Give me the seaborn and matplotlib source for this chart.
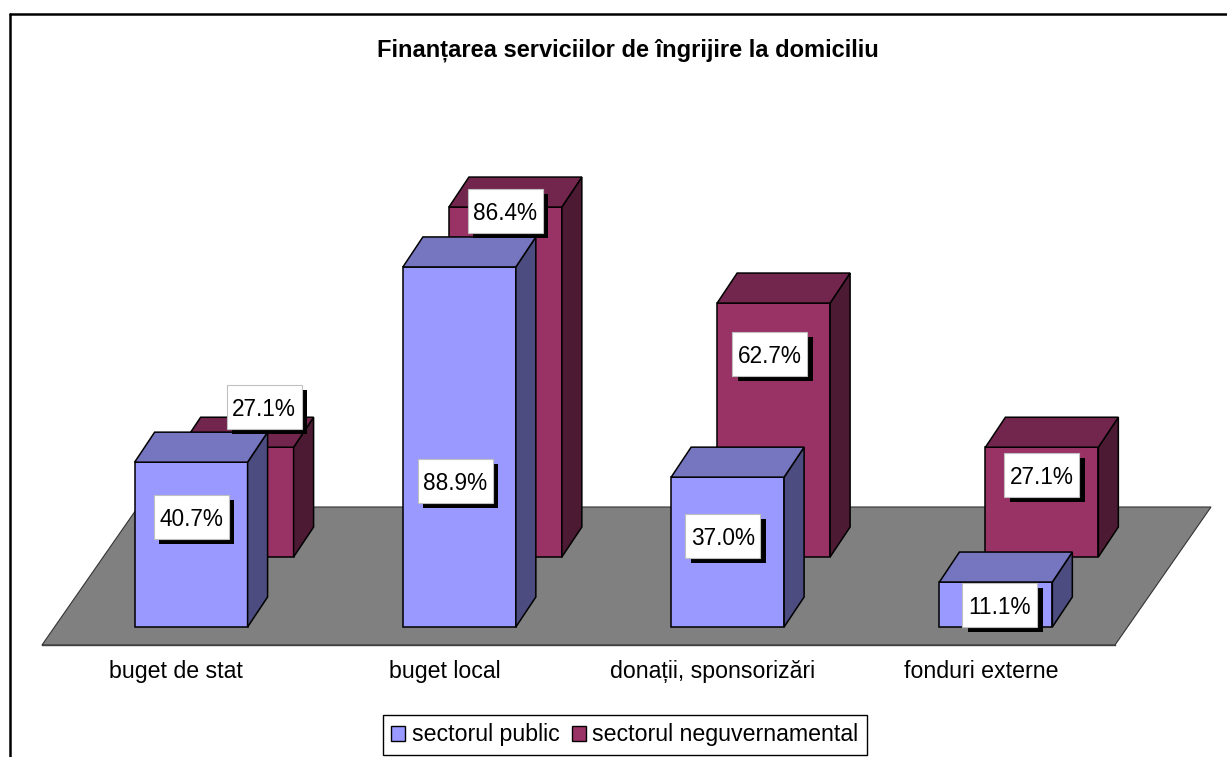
import matplotlib
matplotlib.use("Agg")
import matplotlib.pyplot as plt
from matplotlib.patches import Polygon, Rectangle
from matplotlib.lines import Line2D
from matplotlib.transforms import Affine2D, ScaledTranslation
import pandas as pd
import seaborn as sns

# date
categories = ["buget de stat", "buget local", "donații, sponsorizări", "fonduri externe"]
series = ["sectorul public", "sectorul neguvernamental"]
public = [40.7, 88.9, 37.0, 11.1]
ngo = [27.1, 86.4, 62.7, 27.1]

df = pd.DataFrame({
    "categorie": categories * 2,
    "sector": [series[0]] * 4 + [series[1]] * 4,
    "valoare": public + ngo,
})

front = {series[0]: "#9999FF", series[1]: "#993366"}
top = {series[0]: "#7676C0", series[1]: "#73264D"}
side = {series[0]: "#4C4C80", series[1]: "#4D1A33"}

# pozitia etichetelor (fractie din inaltimea barei) si deplasare orizontala in px
lab_frac = {series[0]: [0.667, 0.405, 0.61, 0.5], series[1]: [1.37, 0.99, 0.80, 0.75]}
lab_dx = {series[0]: [0, -4, -5, 4], series[1]: [27, 0, -4, 0]}

W, H = 1227, 757
sns.set_style("white")
plt.rcParams["font.family"] = ["Liberation Sans", "DejaVu Sans"]
plt.rcParams["text.color"] = "black"

fig = plt.figure(figsize=(W / 100, H / 100), dpi=100)
ax = fig.add_axes([42 / W, 1 - 645 / H, 1073 / W, 545 / H])

ppx = 1073 / 4          # px per categorie
ppy = 4.05              # px per procent
def ux(px):
    return px / ppx
def uy(px):
    return px / ppy

sns.barplot(data=df, x="categorie", y="valoare", hue="sector", hue_order=series,
            order=categories, palette=front, dodge=False, width=0.421, saturation=1,
            errorbar=None, edgecolor="black", linewidth=1.1, ax=ax)

ax.set_xlim(-0.5, 3.5)
ax.set_ylim(-uy(18), -uy(18) + uy(545))

# podeaua
y_floor = -uy(18)
floor = Polygon([(-0.5, y_floor), (3.5, y_floor), (3.5 + ux(96), y_floor + uy(138)),
                 (-0.5 + ux(96), y_floor + uy(138))], closed=True,
                facecolor="#808080", edgecolor="#333333", lw=0.8, zorder=1, clip_on=False)
ax.add_patch(floor)

# deplasari pentru efectul 3D
shift = {series[0]: (ux(15), 0.0), series[1]: (ux(61), uy(70))}
zo = {series[0]: 5, series[1]: 3}
ddx, ddy = ux(20), uy(30)

for s, cont in zip(series, ax.containers):
    vals = public if s == series[0] else ngo
    for i, p in enumerate(cont):
        p.set_x(p.get_x() + shift[s][0])
        p.set_y(shift[s][1])
        p.set_zorder(zo[s])
        p.set_clip_on(False)
        x, y, w, h = p.get_x(), p.get_y(), p.get_width(), p.get_height()
        topf = Polygon([(x, y + h), (x + w, y + h), (x + w + ddx, y + h + ddy), (x + ddx, y + h + ddy)],
                       closed=True, facecolor=top[s], edgecolor="black", lw=1.1,
                       zorder=zo[s], clip_on=False)
        sidef = Polygon([(x + w, y), (x + w + ddx, y + ddy), (x + w + ddx, y + h + ddy), (x + w, y + h)],
                        closed=True, facecolor=side[s], edgecolor="black", lw=1.1,
                        zorder=zo[s], clip_on=False)
        ax.add_patch(sidef)
        ax.add_patch(topf)
        # eticheta: cutie alba cu umbra neagra
        lx = x + w / 2 + ux(lab_dx[s][i])
        ly = y + lab_frac[s][i] * h
        tr = Affine2D() + ScaledTranslation(lx, ly, ax.transData)
        ax.add_patch(Rectangle((-32, -27), 75, 44, transform=tr, facecolor="black",
                               edgecolor="none", zorder=9, clip_on=False))
        ax.add_patch(Rectangle((-37.5, -22), 75, 44, transform=tr, facecolor="white",
                               edgecolor="#C0C0C0", lw=0.8, zorder=9.5, clip_on=False))
        ax.text(lx, ly, f"{vals[i]:.1f}%", ha="center", va="center_baseline",
                fontsize=16.3, color="black", zorder=10, clip_on=False)

# axe
ax.set_xticks(range(4))
ax.set_xticklabels(categories, fontsize=16.7)
ax.set_xticks([-0.5, 0.5, 1.5, 2.5, 3.5], minor=True)
ax.tick_params(axis="x", which="major", length=0, pad=11, labelcolor="black")
ax.tick_params(axis="x", which="minor", length=7, color="#808080", width=1)
ax.set_yticks([])
ax.set_xlabel("")
ax.set_ylabel("")
for sp in ["left", "top", "right"]:
    ax.spines[sp].set_visible(False)
ax.spines["bottom"].set_color("#404040")
ax.spines["bottom"].set_linewidth(1)
ax.patch.set_alpha(0)

# legenda
sns.move_legend(ax, "center", bbox_to_anchor=(625 / W, 1 - 735 / H),
                bbox_transform=fig.transFigure, ncol=2, title=None, frameon=True,
                fontsize=16.7, handlelength=0.6, handleheight=0.6, handletextpad=0.3,
                columnspacing=0.5, borderpad=0.35, fancybox=False, edgecolor="black",
                framealpha=1)
leg = ax.get_legend()
for hnd in leg.legend_handles:
    hnd.set_edgecolor("black")
    hnd.set_linewidth(1)
for txt in leg.get_texts():
    txt.set_color("black")

fig.text(628 / W, 1 - 50 / H, "Finanțarea serviciilor de îngrijire la domiciliu",
         ha="center", va="center", fontsize=17, fontweight="bold", color="black")

# cadrul
fig.add_artist(Line2D([9.5 / W, 9.5 / W], [0, 1 - 13.5 / H], color="black", lw=1.8,
                      transform=fig.transFigure))
fig.add_artist(Line2D([9.5 / W, 1], [1 - 13.5 / H, 1 - 13.5 / H], color="black", lw=1.8,
                      transform=fig.transFigure))

fig.savefig("out.png", dpi=100)
